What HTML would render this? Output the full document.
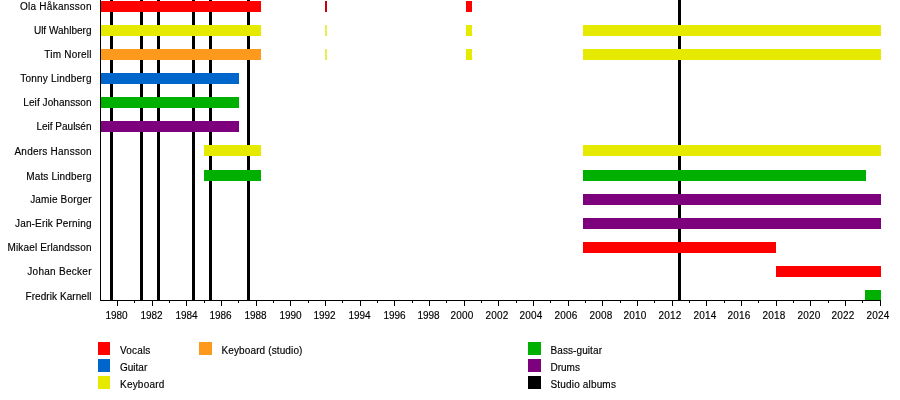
<!DOCTYPE html><html><head><meta charset="utf-8"><style>html,body{margin:0;padding:0;background:#fff;width:900px;height:400px;overflow:hidden}svg{display:block;will-change:transform}text{font-family:"Liberation Sans",sans-serif;font-size:10px;fill:#000;stroke:#000;stroke-width:0.15px}</style></head><body>
<svg width="900" height="400" viewBox="0 0 900 400">
<rect width="900" height="400" fill="#fff"/>
<rect x="110.0" y="0" width="3" height="300" fill="#000"/>
<rect x="140.0" y="0" width="3" height="300" fill="#000"/>
<rect x="157.0" y="0" width="3" height="300" fill="#000"/>
<rect x="192.0" y="0" width="3" height="300" fill="#000"/>
<rect x="209.0" y="0" width="3" height="300" fill="#000"/>
<rect x="247.0" y="0" width="3" height="300" fill="#000"/>
<rect x="678.0" y="0" width="3" height="300" fill="#000"/>
<rect x="101" y="1" width="160" height="11" fill="#ff0000"/>
<rect x="325" y="1" width="2" height="11" fill="#c8000c"/>
<rect x="466" y="1" width="6" height="11" fill="#ff0000"/>
<rect x="101" y="25" width="160" height="11" fill="#e6ea00"/>
<rect x="325" y="25" width="2" height="11" fill="#e8ee50"/>
<rect x="466" y="25" width="6" height="11" fill="#e6ea00"/>
<rect x="583" y="25" width="298" height="11" fill="#e6ea00"/>
<rect x="101" y="49" width="160" height="11" fill="#fd9a1e"/>
<rect x="325" y="49" width="2" height="11" fill="#e8ee50"/>
<rect x="466" y="49" width="6" height="11" fill="#e6ea00"/>
<rect x="583" y="49" width="298" height="11" fill="#e6ea00"/>
<rect x="101" y="73" width="138" height="11" fill="#0066cc"/>
<rect x="101" y="97" width="138" height="11" fill="#00b000"/>
<rect x="101" y="121" width="138" height="11" fill="#7d007d"/>
<rect x="204" y="145" width="57" height="11" fill="#e6ea00"/>
<rect x="583" y="145" width="298" height="11" fill="#e6ea00"/>
<rect x="204" y="170" width="57" height="11" fill="#00b000"/>
<rect x="583" y="170" width="283" height="11" fill="#00b000"/>
<rect x="583" y="194" width="298" height="11" fill="#7d007d"/>
<rect x="583" y="218" width="298" height="11" fill="#7d007d"/>
<rect x="583" y="242" width="193" height="11" fill="#ff0000"/>
<rect x="776" y="266" width="105" height="11" fill="#ff0000"/>
<rect x="865" y="290" width="16" height="11" fill="#00b000"/>
<rect x="100" y="0" width="1" height="301" fill="#000"/>
<rect x="100" y="300" width="781" height="1" fill="#000"/>
<rect x="117" y="300" width="1" height="6" fill="#000"/>
<text x="116.5" y="318.5" text-anchor="middle">1980</text>
<rect x="134" y="300" width="1" height="3" fill="#000"/>
<rect x="152" y="300" width="1" height="6" fill="#000"/>
<text x="151.5" y="318.5" text-anchor="middle">1982</text>
<rect x="169" y="300" width="1" height="3" fill="#000"/>
<rect x="186" y="300" width="1" height="6" fill="#000"/>
<text x="186.5" y="318.5" text-anchor="middle">1984</text>
<rect x="204" y="300" width="1" height="3" fill="#000"/>
<rect x="221" y="300" width="1" height="6" fill="#000"/>
<text x="220.5" y="318.5" text-anchor="middle">1986</text>
<rect x="238" y="300" width="1" height="3" fill="#000"/>
<rect x="256" y="300" width="1" height="6" fill="#000"/>
<text x="255.5" y="318.5" text-anchor="middle">1988</text>
<rect x="273" y="300" width="1" height="3" fill="#000"/>
<rect x="290" y="300" width="1" height="6" fill="#000"/>
<text x="290.5" y="318.5" text-anchor="middle">1990</text>
<rect x="308" y="300" width="1" height="3" fill="#000"/>
<rect x="325" y="300" width="1" height="6" fill="#000"/>
<text x="324.5" y="318.5" text-anchor="middle">1992</text>
<rect x="342" y="300" width="1" height="3" fill="#000"/>
<rect x="360" y="300" width="1" height="6" fill="#000"/>
<text x="359.5" y="318.5" text-anchor="middle">1994</text>
<rect x="377" y="300" width="1" height="3" fill="#000"/>
<rect x="394" y="300" width="1" height="6" fill="#000"/>
<text x="394.5" y="318.5" text-anchor="middle">1996</text>
<rect x="412" y="300" width="1" height="3" fill="#000"/>
<rect x="429" y="300" width="1" height="6" fill="#000"/>
<text x="428.5" y="318.5" text-anchor="middle">1998</text>
<rect x="446" y="300" width="1" height="3" fill="#000"/>
<rect x="464" y="300" width="1" height="6" fill="#000"/>
<text x="461.9" y="318.5" text-anchor="middle" textLength="23.05">2000</text>
<rect x="481" y="300" width="1" height="3" fill="#000"/>
<rect x="498" y="300" width="1" height="6" fill="#000"/>
<text x="496.9" y="318.5" text-anchor="middle" textLength="23.05">2002</text>
<rect x="516" y="300" width="1" height="3" fill="#000"/>
<rect x="533" y="300" width="1" height="6" fill="#000"/>
<text x="530.9" y="318.5" text-anchor="middle" textLength="23.05">2004</text>
<rect x="550" y="300" width="1" height="3" fill="#000"/>
<rect x="568" y="300" width="1" height="6" fill="#000"/>
<text x="565.9" y="318.5" text-anchor="middle" textLength="23.05">2006</text>
<rect x="585" y="300" width="1" height="3" fill="#000"/>
<rect x="602" y="300" width="1" height="6" fill="#000"/>
<text x="600.9" y="318.5" text-anchor="middle" textLength="23.05">2008</text>
<rect x="620" y="300" width="1" height="3" fill="#000"/>
<rect x="637" y="300" width="1" height="6" fill="#000"/>
<text x="634.9" y="318.5" text-anchor="middle" textLength="23.05">2010</text>
<rect x="654" y="300" width="1" height="3" fill="#000"/>
<rect x="672" y="300" width="1" height="6" fill="#000"/>
<text x="669.9" y="318.5" text-anchor="middle" textLength="23.05">2012</text>
<rect x="689" y="300" width="1" height="3" fill="#000"/>
<rect x="706" y="300" width="1" height="6" fill="#000"/>
<text x="704.9" y="318.5" text-anchor="middle" textLength="23.05">2014</text>
<rect x="724" y="300" width="1" height="3" fill="#000"/>
<rect x="741" y="300" width="1" height="6" fill="#000"/>
<text x="738.9" y="318.5" text-anchor="middle" textLength="23.05">2016</text>
<rect x="758" y="300" width="1" height="3" fill="#000"/>
<rect x="776" y="300" width="1" height="6" fill="#000"/>
<text x="773.9" y="318.5" text-anchor="middle" textLength="23.05">2018</text>
<rect x="793" y="300" width="1" height="3" fill="#000"/>
<rect x="810" y="300" width="1" height="6" fill="#000"/>
<text x="808.9" y="318.5" text-anchor="middle" textLength="23.05">2020</text>
<rect x="828" y="300" width="1" height="3" fill="#000"/>
<rect x="845" y="300" width="1" height="6" fill="#000"/>
<text x="842.9" y="318.5" text-anchor="middle" textLength="23.05">2022</text>
<rect x="862" y="300" width="1" height="3" fill="#000"/>
<rect x="880" y="300" width="1" height="6" fill="#000"/>
<text x="877.9" y="318.5" text-anchor="middle" textLength="23.05">2024</text>
<text x="91.5" y="10" text-anchor="end" textLength="71.58">Ola Håkansson</text>
<text x="91.5" y="34" text-anchor="end" textLength="57.62">Ulf Wahlberg</text>
<text x="91.5" y="58" text-anchor="end" textLength="47.17">Tim Norell</text>
<text x="91.5" y="82" text-anchor="end" textLength="71.29">Tonny Lindberg</text>
<text x="91.5" y="106" text-anchor="end" textLength="68.18">Leif Johansson</text>
<text x="91.5" y="130" text-anchor="end">Leif Paulsén</text>
<text x="91.5" y="155" text-anchor="end" textLength="77.04">Anders Hansson</text>
<text x="91.5" y="180" text-anchor="end" textLength="65.28">Mats Lindberg</text>
<text x="91.5" y="203" text-anchor="end" textLength="61.37">Jamie Borger</text>
<text x="91.5" y="227" text-anchor="end" textLength="76.52">Jan-Erik Perning</text>
<text x="91.5" y="251" text-anchor="end" textLength="84.00">Mikael Erlandsson</text>
<text x="91.5" y="275" text-anchor="end" textLength="64.16">Johan Becker</text>
<text x="91.5" y="300" text-anchor="end" textLength="66.02">Fredrik Karnell</text>
<rect x="98" y="342" width="12" height="13" fill="#ff0000"/>
<text x="120" y="354" textLength="30.27">Vocals</text>
<rect x="98" y="359" width="12" height="13" fill="#0066cc"/>
<text x="120" y="371">Guitar</text>
<rect x="98" y="376" width="12" height="13" fill="#e6ea00"/>
<text x="120" y="388" textLength="44.31">Keyboard</text>
<rect x="199" y="342" width="13" height="13" fill="#fd9a1e"/>
<text x="221.5" y="354" textLength="80.94">Keyboard (studio)</text>
<rect x="528" y="342" width="13" height="13" fill="#00b000"/>
<text x="550.5" y="354" textLength="51.48">Bass-guitar</text>
<rect x="528" y="359" width="13" height="13" fill="#7d007d"/>
<text x="550.5" y="371">Drums</text>
<rect x="528" y="376" width="13" height="13" fill="#000000"/>
<text x="550.5" y="388" textLength="65.38">Studio albums</text>
</svg></body></html>
